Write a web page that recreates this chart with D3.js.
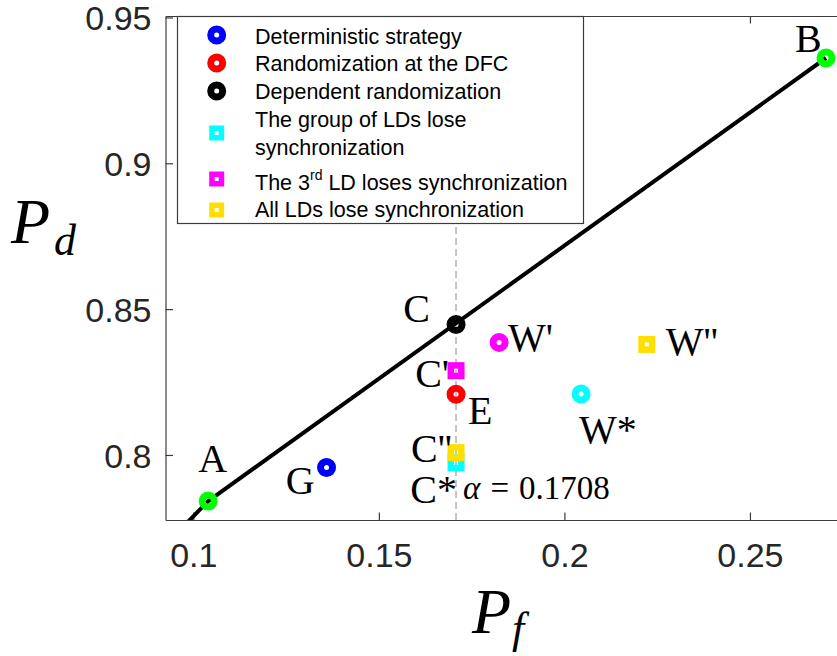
<!DOCTYPE html>
<html>
<head>
<meta charset="utf-8">
<script src="https://cdn.jsdelivr.net/npm/d3@7"></script>
<style>
  html, body { margin: 0; padding: 0; background: #fff; }
  svg { display: block; }
</style>
</head>
<body>
<svg id="chart" width="837" height="656"></svg>
<script>
// ---- data ----
const seriesNames = [
  "Deterministic strategy",
  "Randomization at the DFC",
  "Dependent randomization",
  "The group of LDs lose synchronization",
  "The 3rd LD loses synchronization",
  "All LDs lose synchronization"
];
const pointNames  = ["A", "B", "G", "E", "C", "C*", "W*", "C'", "W'", "C''", "W''"];
const pointPf     = [0.1040, 0.2705, 0.1359, 0.1708, 0.1708, 0.1708, 0.2045, 0.1708, 0.1824, 0.1708, 0.2222];
const pointPd     = [0.7842, 0.9361, 0.7957, 0.8208, 0.8447, 0.7973, 0.8209, 0.8289, 0.8386, 0.8008, 0.8379];
const pointSeries = [-1, -1, 0, 1, 2, 3, 3, 4, 4, 5, 5];   // -1: ROC end points
const pointMarker = ["o", "o", "o", "o", "o", "s", "o", "s", "o", "s", "s"];
const rocPf = [0.0985, 0.1040, 0.2705];
const rocPd = [0.7770, 0.7842, 0.9361];
const alpha = 0.1708;
const xTicks = [0.1, 0.15, 0.2, 0.25];
const xTickLabels = ["0.1", "0.15", "0.2", "0.25"];
const yTicks = [0.8, 0.85, 0.9, 0.95];
const yTickLabels = ["0.8", "0.85", "0.9", "0.95"];

// ---- styles ----
const seriesColor = ["#0000ff", "#ff0000", "#000000", "#00ffff", "#ff00ff", "#ffdf00"];
const endColor = "#00ff00";
const labelFont = "'Liberation Serif', 'Times New Roman', serif";
const sansFont = "'Liberation Sans', Arial, Helvetica, sans-serif";
// label placement relative to each point (pixels)
const labelPlace = {
  "A":   { anchor: "start", dx: -10, dy: -29 },
  "B":   { anchor: "start", dx: -31, dy: -6 },
  "C":   { anchor: "end",   dx: -26, dy: -3 },
  "G":   { anchor: "end",   dx: -12, dy: 26 },
  "W'":  { anchor: "start", dx: 9,   dy: 9 },
  "C'":  { anchor: "end",   dx: -7,  dy: 16 },
  "E":   { anchor: "start", dx: 12,  dy: 30 },
  "W*":  { anchor: "start", dx: -2,  dy: 49 },
  "C''": { anchor: "end",   dx: -4,  dy: 9 },
  "C*":  { anchor: "end",   dx: 1,   dy: 40 },
  "W''": { anchor: "start", dx: 19,  dy: 11 }
};

const svg = d3.select("#chart");
const plotL = 165.5, plotR = 839, plotT = 16, plotB = 520;

const x = d3.scaleLinear().domain([0.0925, 0.274]).range([plotL, plotR]);
const y = d3.scaleLinear().domain([0.7777, 0.9505]).range([plotB, plotT]);

svg.append("defs").append("clipPath").attr("id", "plotClip")
  .append("rect").attr("x", plotL).attr("y", plotT)
  .attr("width", plotR - plotL).attr("height", plotB - plotT);

const axisColor = "#3c3c3c";

// ---- axes (ticks point inward) ----
const gx = svg.append("g").attr("transform", `translate(0,${plotB})`)
  .call(d3.axisBottom(x).tickValues(xTicks).tickSizeInner(-7.5).tickSizeOuter(0)
    .tickFormat((d, i) => xTickLabels[i]));
const gxTop = svg.append("g").attr("transform", `translate(0,${plotT})`)
  .call(d3.axisTop(x).tickValues(xTicks).tickSizeInner(-7.5).tickSizeOuter(0).tickFormat(""));
const gy = svg.append("g").attr("transform", `translate(${plotL},0)`)
  .call(d3.axisLeft(y).tickValues(yTicks).tickSizeInner(-7.5).tickSizeOuter(0)
    .tickFormat((d, i) => yTickLabels[i]));

[gx, gxTop, gy].forEach(g => {
  g.select(".domain").attr("stroke", axisColor).attr("stroke-width", 1.2);
  g.selectAll(".tick line").attr("stroke", axisColor).attr("stroke-width", 1.2);
});
gx.selectAll(".tick text")
  .attr("y", 47).attr("dy", null)
  .attr("font-family", sansFont).attr("font-size", 34).attr("fill", "#262626");
gy.selectAll(".tick text")
  .attr("x", -14).attr("dy", "0.36em")
  .attr("font-family", sansFont).attr("font-size", 34).attr("fill", "#262626");

// ---- ROC segments ----
const plot = svg.append("g").attr("clip-path", "url(#plotClip)");
plot.append("path")
  .datum(rocPf.map((v, i) => [v, rocPd[i]]))
  .attr("d", d3.line().x(d => x(d[0])).y(d => y(d[1])))
  .attr("fill", "none").attr("stroke", "#000").attr("stroke-width", 4)
  .attr("stroke-linejoin", "round");

// ---- dashed line at alpha ----
plot.append("line")
  .attr("x1", x(alpha)).attr("x2", x(alpha))
  .attr("y1", y.range()[0]).attr("y2", y.range()[1])
  .attr("stroke", "#c4c4c4").attr("stroke-width", 2)
  .attr("stroke-dasharray", "7,4");

// ---- markers ----
function markerColor(i) {
  return pointSeries[i] < 0 ? endColor : seriesColor[pointSeries[i]];
}
function drawMarker(g, type, cx, cy, color, big) {
  if (type === "o") {
    g.append("circle").attr("cx", cx).attr("cy", cy).attr("r", 6)
      .attr("fill", "none").attr("stroke", color).attr("stroke-width", 7);
  } else {
    const s = big ? 10.5 : 9.5, w = big ? 6.5 : 5.5;
    g.append("rect").attr("x", cx - s / 2).attr("y", cy - s / 2)
      .attr("width", s).attr("height", s)
      .attr("fill", "none").attr("stroke", color).attr("stroke-width", w);
  }
}
const mk = svg.append("g");
pointNames.forEach((name, i) => {
  drawMarker(mk, pointMarker[i], x(pointPf[i]), y(pointPd[i]), markerColor(i), true);
});

// ---- point labels ----
const lab = svg.append("g").attr("font-family", labelFont).attr("font-size", 40).attr("fill", "#000");
pointNames.forEach((name, i) => {
  const p = labelPlace[name];
  lab.append("text")
    .attr("x", x(pointPf[i]) + p.dx).attr("y", y(pointPd[i]) + p.dy)
    .attr("text-anchor", p.anchor)
    .text(name);
});

// alpha annotation
const at = svg.append("text")
  .attr("x", x(alpha) + 7).attr("y", 499)
  .attr("font-family", labelFont).attr("font-size", 33).attr("fill", "#000")
  .attr("xml:space", "preserve");
at.append("tspan").attr("font-style", "italic").text("α");
at.append("tspan").attr("dx", 10).text("=");
at.append("tspan").attr("dx", 10).text(alpha.toFixed(4));

// ---- axis titles ----
const yTitle = svg.append("g").attr("font-family", labelFont).attr("font-style", "italic").attr("fill", "#000");
yTitle.append("text").attr("x", 11).attr("y", 243).attr("font-size", 64).text("P");
yTitle.append("text").attr("x", 54).attr("y", 255).attr("font-size", 44).text("d");

const xTitle = svg.append("g").attr("font-family", labelFont).attr("font-style", "italic").attr("fill", "#000");
xTitle.append("text").attr("x", 472).attr("y", 633).attr("font-size", 64).text("P");
xTitle.append("text").attr("x", 512).attr("y", 643).attr("font-size", 44).text("f");

// ---- legend ----
const lg = svg.append("g");
lg.append("rect").attr("x", 177.5).attr("y", 16.5).attr("width", 406).attr("height", 207)
  .attr("fill", "#fff").attr("stroke", "#3c3c3c").attr("stroke-width", 1.2);

const legMarkerY = [35, 63, 91, 133, 179, 210];
const legLines = [
  [seriesNames[0]],
  [seriesNames[1]],
  [seriesNames[2]],
  ["The group of LDs lose", "synchronization"],
  null,
  [seriesNames[5]]
];
const legTextY = [[43.5], [71], [99], [126.5, 154.5], [189.5], [217]];
const legMarkerType = ["o", "o", "o", "s", "s", "s"];
const legX = 216.7, legTextX = 255;

seriesNames.forEach((name, k) => {
  drawMarker(lg, legMarkerType[k], legX, legMarkerY[k], seriesColor[k], false);
  const t = lg.append("g").attr("font-family", sansFont).attr("font-size", 21.5).attr("fill", "#000");
  if (k === 4) {
    const tx = t.append("text").attr("x", legTextX).attr("y", legTextY[k][0]);
    tx.append("tspan").text("The 3");
    tx.append("tspan").attr("font-size", 14).attr("dy", -10).text("rd");
    tx.append("tspan").attr("dy", 10).text(" LD loses synchronization");
  } else {
    legLines[k].forEach((line, j) => {
      t.append("text").attr("x", legTextX).attr("y", legTextY[k][j]).text(line);
    });
  }
});
</script>
</body>
</html>
